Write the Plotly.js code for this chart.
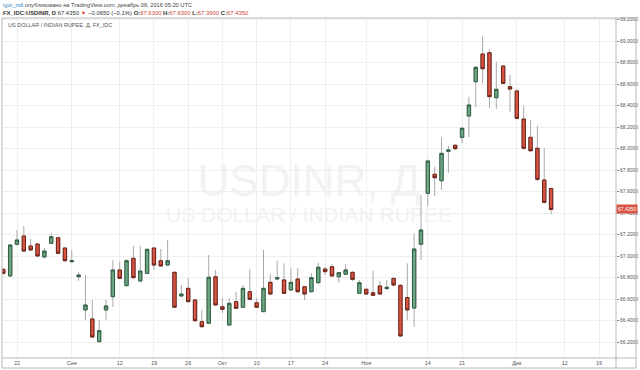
<!DOCTYPE html>
<html><head><meta charset="utf-8">
<script src="https://cdn.plot.ly/plotly-3.0.1.min.js"></script>
<style>html,body{margin:0;padding:0;background:#fff;}#chart{width:640px;height:370px;}</style>
</head><body><div id="chart"></div>
<script>
const dates = [
"2016-08-18","2016-08-19","2016-08-22","2016-08-23","2016-08-24","2016-08-25","2016-08-26","2016-08-29","2016-08-30","2016-08-31",
"2016-09-01","2016-09-02","2016-09-05","2016-09-06","2016-09-07","2016-09-08","2016-09-09","2016-09-12","2016-09-13","2016-09-14",
"2016-09-15","2016-09-16","2016-09-19","2016-09-20","2016-09-21","2016-09-22","2016-09-23","2016-09-26","2016-09-27","2016-09-28",
"2016-09-29","2016-09-30","2016-10-03","2016-10-04","2016-10-05","2016-10-06","2016-10-07","2016-10-10","2016-10-11","2016-10-12",
"2016-10-13","2016-10-14","2016-10-17","2016-10-18","2016-10-19","2016-10-20","2016-10-21","2016-10-24","2016-10-25","2016-10-26",
"2016-10-27","2016-10-28","2016-10-31","2016-11-01","2016-11-02","2016-11-03","2016-11-04","2016-11-07","2016-11-08","2016-11-09",
"2016-11-10","2016-11-11","2016-11-14","2016-11-15","2016-11-16","2016-11-17","2016-11-18","2016-11-21","2016-11-22","2016-11-23",
"2016-11-24","2016-11-25","2016-11-28","2016-11-29","2016-11-30","2016-12-01","2016-12-02","2016-12-05","2016-12-06","2016-12-07",
"2016-12-08"];
const openP = [
66.878,66.816,67.111,67.188,67.095,67.113,66.993,67.120,67.172,67.076,
66.949,66.809,66.500,66.416,66.205,66.500,66.623,66.872,66.726,66.980,
66.769,66.841,67.076,66.958,66.918,66.850,66.630,66.701,66.593,66.391,
66.376,66.809,66.530,66.360,66.577,66.525,66.670,66.567,66.484,66.757,
66.788,66.779,66.686,66.788,66.716,66.670,66.753,66.881,66.902,66.809,
66.832,66.850,66.655,66.692,66.660,66.723,66.698,66.794,66.729,66.616,
66.518,67.111,67.585,67.762,67.702,67.976,68.032,68.106,68.304,68.623,
68.881,68.893,68.474,68.769,68.577,68.537,68.276,68.106,68.004,67.709,
67.630];
const highP = [
66.890,67.110,67.244,67.281,67.160,67.120,67.076,67.216,67.180,67.080,
67.058,66.856,66.825,66.593,66.407,66.593,66.965,66.949,66.970,67.095,
67.095,67.070,67.080,67.067,67.151,66.860,66.732,66.797,66.600,66.500,
67.011,66.872,66.611,66.611,66.670,66.732,66.878,66.611,67.058,66.834,
66.958,66.934,66.887,66.887,66.720,66.841,66.940,66.902,66.927,66.850,
66.927,66.860,66.779,66.700,66.865,66.772,66.779,66.800,66.740,66.934,
67.213,67.569,67.900,67.833,68.106,68.025,68.040,68.205,68.484,68.770,
69.051,68.925,68.809,68.780,68.686,68.550,68.397,68.267,68.214,68.004,
67.630];
const lowP = [
66.830,66.810,67.100,67.040,67.050,66.990,66.980,67.110,67.020,66.950,
66.940,66.772,66.407,66.240,66.200,66.407,66.527,66.790,66.720,66.790,
66.760,66.830,66.872,66.900,66.910,66.520,66.620,66.570,66.390,66.340,
66.370,66.540,66.472,66.350,66.510,66.520,66.590,66.520,66.480,66.640,
66.780,66.650,66.680,66.660,66.593,66.660,66.750,66.825,66.810,66.753,
66.830,66.769,66.650,66.640,66.630,66.640,66.690,66.720,66.250,66.407,
66.344,66.965,67.467,67.560,67.616,67.777,67.990,68.050,68.106,68.385,
68.608,68.376,68.372,68.600,68.344,68.270,67.990,67.970,67.700,67.490,
67.390];
const closeP = [
66.841,67.104,67.151,67.048,67.058,67.002,67.048,67.181,67.027,66.958,
66.958,66.825,66.546,66.248,66.307,66.537,66.872,66.794,66.958,66.800,
66.862,67.064,66.918,66.909,66.958,66.525,66.648,66.577,66.400,66.344,
66.804,66.546,66.506,66.562,66.515,66.701,66.599,66.525,66.701,66.648,
66.800,66.655,66.757,66.670,66.648,66.800,66.897,66.856,66.816,66.847,
66.872,66.785,66.753,66.648,66.636,66.648,66.711,66.732,66.258,66.500,
67.067,67.244,67.886,67.730,67.957,67.988,68.000,68.190,68.407,68.757,
68.744,68.484,68.553,68.608,68.555,68.283,68.004,67.981,67.715,67.501,
67.435];
const tickDates = ["2016-08-22","2016-09-01","2016-09-12","2016-09-19","2016-09-26","2016-10-03","2016-10-10","2016-10-17","2016-10-24","2016-11-01","2016-11-14","2016-11-21","2016-12-01","2016-12-12","2016-12-19"];
const tickLabels = ["22","Сен","12","19","26","Окт","10","17","24","Ноя","14","21","Дек","12","19"];
const lastPrice = 67.435;

function bizIndex(s){
  const t0 = Date.UTC(2016,7,18);
  const p = s.split('-').map(Number);
  const t = Date.UTC(p[0],p[1]-1,p[2]);
  let n = 0;
  for(let u=t0; u<t; u+=86400000){ const wd = new Date(u).getUTCDay(); if(wd!==0 && wd!==6) n++; }
  return n;
}
const xi = dates.map(bizIndex);
const bodyHi = openP.map((o,i)=>Math.max(o,closeP[i]));
const bodyLo = openP.map((o,i)=>Math.min(o,closeP[i]));

const W=640,H=370,L=2,R=24,T=18,B=12;
const pw=W-L-R, ph=H-T-B;
const xp = px => (px-L)/pw;
const yp = py => (H-B-py)/ph;

const wick = {type:'candlestick', x:xi, open:openP, high:highP, low:lowP, close:closeP,
  increasing:{line:{color:'#a9a9a9',width:1}, fillcolor:'#a9a9a9'},
  decreasing:{line:{color:'#a9a9a9',width:1}, fillcolor:'#a9a9a9'},
  whiskerwidth:0, hoverinfo:'skip', showlegend:false};
const body = {type:'candlestick', x:xi, open:openP, high:bodyHi, low:bodyLo, close:closeP,
  increasing:{line:{color:'#2f5e40',width:1}, fillcolor:'#6ba583'},
  decreasing:{line:{color:'#6a2218',width:1}, fillcolor:'#d75442'},
  whiskerwidth:0, hoverinfo:'skip', showlegend:false};

const gray='#b8b8b8';
const layout = {
  width:W, height:H, margin:{l:L,r:R,t:T,b:B}, paper_bgcolor:'#fff', plot_bgcolor:'#fff',
  showlegend:false, hovermode:false, dragmode:false,
  xaxis:{type:'linear', range:[-0.19,89.48], tickmode:'array', tickvals:tickDates.map(bizIndex), ticktext:tickLabels,
    showgrid:true, gridcolor:'#efefef', gridwidth:1, zeroline:false, showline:false, ticks:'',
    tickfont:{family:'Liberation Sans, Arial', size:5.5, color:'#555'}, rangeslider:{visible:false}, fixedrange:true, automargin:false},
  yaxis:{side:'right', range:[66.053,69.216], tickmode:'linear', tick0:66.2, dtick:0.2, tickformat:'.4f',
    showgrid:true, gridcolor:'#efefef', zeroline:false, showline:false, ticks:'outside', ticklen:2, tickcolor:'#888',
    tickfont:{family:'Liberation Sans, Arial', size:5, color:'#555'}, fixedrange:true, automargin:false},
  shapes:[
    {type:'rect', xref:'paper', yref:'paper', x0:xp(2), x1:xp(636), y0:yp(368), y1:yp(18), line:{color:gray,width:1}, fillcolor:'rgba(0,0,0,0)', layer:'above'},
    {type:'line', xref:'paper', yref:'paper', x0:xp(616), x1:xp(616), y0:yp(368), y1:yp(18), line:{color:gray,width:1}, layer:'above'},
    {type:'line', xref:'paper', yref:'paper', x0:xp(2), x1:xp(636), y0:0, y1:0, line:{color:gray,width:1}, layer:'above'},
    {type:'rect', xref:'paper', yref:'paper', x0:0.15, x1:0.85, y0:yp(196), y1:yp(156), line:{width:0}, fillcolor:'rgba(0,0,0,0)', layer:'between',
      label:{text:'USDINR, Д', font:{family:'Liberation Sans, Arial', size:44, color:'#f2f2f2'}, textposition:'middle center'}},
    {type:'rect', xref:'paper', yref:'paper', x0:0.1, x1:0.9, y0:yp(222), y1:yp(202), line:{width:0}, fillcolor:'rgba(0,0,0,0)', layer:'between',
      label:{text:'US DOLLAR / INDIAN RUPEE', font:{family:'Liberation Sans, Arial', size:21, color:'#f2f2f2'}, textposition:'middle center'}}
  ],
  annotations:[
    {xref:'paper', yref:'paper', x:xp(1), y:yp(5), xanchor:'left', yanchor:'middle', showarrow:false,
      text:'<span style="color:#3a87c8">igor_ndl</span> опубликовано на TradingView.com, декабрь 08, 2016 05:20 UTC',
      font:{family:'Liberation Sans, Arial', size:5.7, color:'#444'}},
    {xref:'paper', yref:'paper', x:xp(1), y:yp(13), xanchor:'left', yanchor:'middle', showarrow:false,
      text:'<b>FX_IDC:USDINR, D</b> 67.4350 <span style="color:#d0463a">▼</span> −0.0650 (−0.1%) <b>O:</b><span style="color:#d0463a">67.6300</span> <b>H:</b><span style="color:#d0463a">67.6300</span> <b>L:</b><span style="color:#d0463a">67.3900</span> <b>C:</b><span style="color:#d0463a">67.4350</span>',
      font:{family:'Liberation Sans, Arial', size:5.9, color:'#333'}},
    {xref:'paper', yref:'paper', x:xp(6), y:yp(25), xanchor:'left', yanchor:'middle', showarrow:false,
      text:'US DOLLAR / INDIAN RUPEE, Д, FX_IDC',
      font:{family:'Liberation Sans, Arial', size:5.5, color:'#555'}},
    {xref:'paper', yref:'y', x:1, y:lastPrice, xanchor:'left', yanchor:'middle', showarrow:false,
      text:lastPrice.toFixed(4), bgcolor:'#d75442', borderpad:1, font:{family:'Liberation Sans, Arial', size:5, color:'#fff'}}
  ]
};
Plotly.newPlot('chart',[wick, body],layout,{staticPlot:true, displayModeBar:false});
</script></body></html>
